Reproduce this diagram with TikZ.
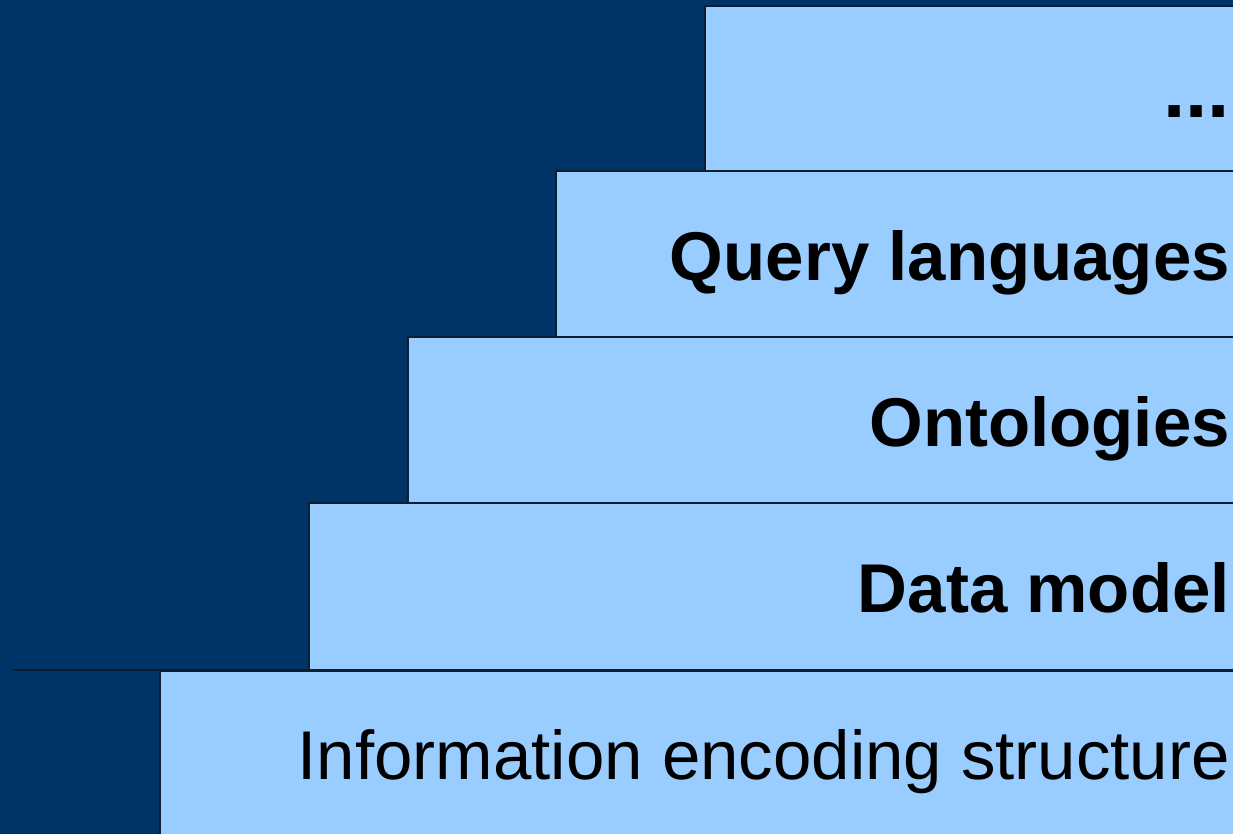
\documentclass[tikz,border=0pt]{standalone}
\usepackage{fontspec}
\setmainfont{Liberation Sans}
\definecolor{navy}{HTML}{003366}
\definecolor{lightblue}{HTML}{99CCFF}
\definecolor{edge}{HTML}{0F1E2E}
\begin{document}
\begin{tikzpicture}[x=1pt,y=-1pt,
  stepbox/.style={fill=lightblue,draw=edge,line width=1.2pt},
  label/.style={anchor=base east,inner sep=0pt,font=\fontsize{69}{80}\selectfont\bfseries},
  plainlabel/.style={anchor=base east,inner sep=0pt,font=\fontsize{69}{80}\selectfont}]
\useasboundingbox (0,0) rectangle (1233,834);
\clip (0,0) rectangle (1233,834);
\fill[navy] (0,0) rectangle (1233,834);
\draw[stepbox] (705,6) rectangle (1250,171);
\draw[stepbox] (556,171) rectangle (1250,337);
\draw[stepbox] (408,337) rectangle (1250,503);
\draw[stepbox] (309,503) rectangle (1250,670);
\draw[stepbox] (160,671) rectangle (1250,850);
\coordinate (lineL) at (12,670);
\coordinate (lineR) at (1250,670);
\draw[edge,line width=1.2pt] (lineL) -- (lineR);
\node[label,font=\fontsize{80}{90}\selectfont\bfseries] (dots) at (1230,118) {...};
\node[label] (query) at (1230,280) {Query languages};
\node[label] (onto) at (1230,446) {Ontologies};
\node[label] (data) at (1230,612) {Data model};
\node[plainlabel] (info) at (1230,779) {Information encoding structure};
\end{tikzpicture}
\end{document}
